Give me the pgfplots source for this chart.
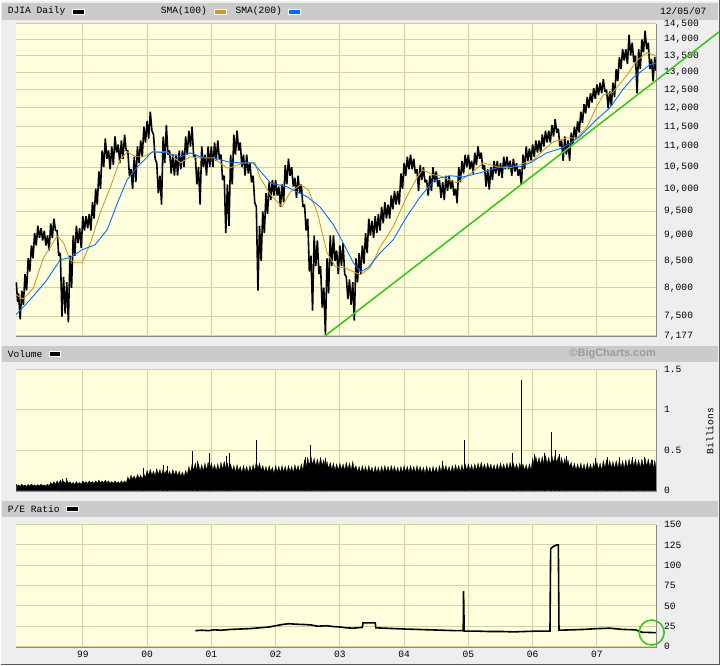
\documentclass[border=0pt]{standalone}
\usepackage{pgfplots}
\pgfplotsset{compat=1.18}
\usepackage{fontspec}
\setmainfont{Liberation Sans}
\newfontfamily\mono{Liberation Mono}
\newcommand\tickfont{\mono\fontsize{9.6}{10}\selectfont}
\definecolor{bgc}{HTML}{EEEEEE}
\definecolor{hdr}{HTML}{CBCBCB}
\definecolor{plotbg}{HTML}{FFFFDE}
\definecolor{gridc}{HTML}{D6D2A0}
\definecolor{smaorange}{HTML}{CC9933}
\definecolor{smablue}{HTML}{0A6CFF}
\definecolor{trend}{HTML}{3CC81E}
\definecolor{shadowc}{HTML}{8A8A8A}
\definecolor{logoc}{HTML}{9A9A9A}
\pgfplotsset{
  bc/.style={
    scale only axis, width=640pt, xmin=1997.96, xmax=2007.92,
    anchor=south west,
    axis background/.style={fill=plotbg},
    axis line style={draw=none},
    xtick={1999,2000,...,2007},
    major tick length=0pt,
    grid=major, major grid style={draw=gridc, line width=1pt},
    yticklabel pos=right,
    yticklabel style={font=\tickfont, anchor=west, inner sep=0pt, xshift=8pt},
    xticklabel style={font=\tickfont, anchor=north, inner sep=0pt, yshift=-4pt},
    clip=false,
  }
}
\begin{document}
\begin{tikzpicture}[x=1pt,y=1pt]
\useasboundingbox (0,0) rectangle (720,665);
\fill[bgc] (0,0) rectangle (720,665);
\draw[white, line width=1pt] (0.5,0.5) -- (0.5,664.5) -- (719.5,664.5);
\draw[gray!70!black, line width=1pt] (0.5,0.5) -- (719.5,0.5) -- (719.5,664.5);
% header bars
\fill[hdr] (2,662) rectangle (718,645);
\fill[hdr] (2,319) rectangle (718,303);
\fill[hdr] (2,164) rectangle (718,148);
% header texts
\node[anchor=west, inner sep=0pt] at (7.7,653.5) {\tickfont DJIA Daily};
\filldraw[fill=black, draw=white, line width=0.8pt] (72,651) rectangle (84,656);
\node[anchor=west, inner sep=0pt] at (160.7,653.5) {\tickfont SMA(100)};
\filldraw[fill=smaorange, draw=white, line width=0.8pt] (214,651) rectangle (226,656);
\node[anchor=west, inner sep=0pt] at (235.5,653.5) {\tickfont SMA(200)};
\filldraw[fill=smablue, draw=white, line width=0.8pt] (288,651) rectangle (300,656);
\node[anchor=west, inner sep=0pt] at (660,653.5) {\tickfont 12/05/07};
\node[anchor=west, inner sep=0pt] at (7.7,311) {\tickfont Volume};
\filldraw[fill=black, draw=white, line width=0.8pt] (49.6,308.5) rectangle (60.6,313.5);
\node[anchor=east, inner sep=0pt, text=logoc] at (656,311) {\fontsize{11}{12}\selectfont\bfseries\copyright BigCharts.com};
\node[anchor=west, inner sep=0pt] at (7.7,156) {\tickfont P/E Ratio};
\filldraw[fill=black, draw=white, line width=0.8pt] (66.6,153.5) rectangle (78.6,158.5);
\node[rotate=90, inner sep=0pt] at (710,234) {\tickfont Billions};

% ---------------- PRICE PANEL ----------------
\begin{axis}[bc, at={(16pt,329pt)}, height=312pt,
  ymode=log, ymin=7177, ymax=14500,
  xticklabels={},
  ytick={7177,7500,8000,8500,9000,9500,10000,10500,11000,11500,12000,12500,13000,13500,14000,14500},
  yticklabels={{7,177},{7,500},{8,000},{8,500},{9,000},{9,500},{10,000},{10,500},{11,000},{11,500},{12,000},{12,500},{13,000},{13,500},{14,000},{14,500}},
]
\addplot[black, line width=1.6pt, line join=bevel] table[row sep=\\] {
x y\\
1997.965 8100\\ 1997.985 7750\\
1998.00 7900\\ 1998.025 7450\\ 1998.05 7950\\ 1998.075 7700\\ 1998.10 8250\\ 1998.125 7950\\ 1998.15 8550\\ 1998.175 8300\\
1998.20 8800\\ 1998.225 8550\\ 1998.25 9050\\ 1998.275 8800\\ 1998.30 9200\\ 1998.325 8950\\ 1998.35 9150\\ 1998.375 8900\\
1998.40 9100\\ 1998.425 8800\\ 1998.45 9000\\ 1998.475 8700\\ 1998.50 9250\\ 1998.525 8950\\ 1998.55 9350\\ 1998.575 9100\\
1998.60 9100\\ 1998.625 8600\\ 1998.65 8650\\ 1998.675 7500\\ 1998.70 8200\\ 1998.725 7550\\ 1998.75 8100\\ 1998.775 7400\\
1998.80 8600\\ 1998.825 8000\\ 1998.85 9000\\ 1998.875 8600\\ 1998.90 9200\\ 1998.925 8850\\ 1998.95 9150\\ 1998.975 8750\\
1999.00 9400\\ 1999.025 9100\\ 1999.05 9400\\ 1999.075 9150\\ 1999.10 9450\\ 1999.125 9100\\ 1999.15 9700\\ 1999.175 9350\\
1999.20 10000\\ 1999.225 9650\\ 1999.25 10400\\ 1999.275 10000\\ 1999.30 10900\\ 1999.325 10500\\ 1999.35 11200\\ 1999.375 10700\\
1999.40 10900\\ 1999.425 10450\\ 1999.45 11000\\ 1999.475 10550\\ 1999.50 11250\\ 1999.525 10850\\ 1999.55 11050\\ 1999.575 10600\\
1999.60 11150\\ 1999.625 10700\\ 1999.65 11300\\ 1999.675 10900\\ 1999.70 10900\\ 1999.725 10300\\ 1999.75 10450\\ 1999.775 10000\\
1999.80 10750\\ 1999.825 10150\\ 1999.85 11000\\ 1999.875 10600\\ 1999.90 11150\\ 1999.925 10750\\ 1999.95 11500\\ 1999.975 11100\\
2000.00 11650\\ 2000.025 11200\\ 2000.05 11900\\ 2000.075 11400\\ 2000.10 11300\\ 2000.125 10700\\ 2000.15 10600\\ 2000.175 9900\\
2000.20 10300\\ 2000.225 9650\\ 2000.25 11250\\ 2000.275 10600\\ 2000.30 11550\\ 2000.325 10800\\ 2000.35 10900\\ 2000.375 10350\\
2000.40 10800\\ 2000.425 10300\\ 2000.45 10800\\ 2000.475 10300\\ 2000.50 10900\\ 2000.525 10450\\ 2000.55 10900\\ 2000.575 10500\\
2000.60 11250\\ 2000.625 10800\\ 2000.65 11400\\ 2000.675 11000\\ 2000.70 11500\\ 2000.725 10750\\ 2000.75 10800\\ 2000.775 10100\\
2000.80 10500\\ 2000.825 9650\\ 2000.85 11000\\ 2000.875 10500\\ 2000.90 10800\\ 2000.925 10300\\ 2000.95 11000\\ 2000.975 10500\\
2001.00 11000\\ 2001.025 10500\\ 2001.05 11100\\ 2001.075 10650\\ 2001.10 11150\\ 2001.125 10700\\ 2001.15 10800\\ 2001.175 10200\\
2001.20 10300\\ 2001.225 9050\\ 2001.25 10100\\ 2001.275 9200\\ 2001.30 10800\\ 2001.325 10100\\ 2001.35 11300\\ 2001.375 10800\\
2001.40 11400\\ 2001.425 10900\\ 2001.45 11100\\ 2001.475 10500\\ 2001.50 10800\\ 2001.525 10300\\ 2001.55 10800\\ 2001.575 10350\\
2001.60 10600\\ 2001.625 10150\\ 2001.65 10300\\ 2001.675 9700\\ 2001.70 9600\\ 2001.725 7950\\ 2001.75 9200\\ 2001.775 8500\\
2001.80 9500\\ 2001.825 9050\\ 2001.85 9900\\ 2001.875 9450\\ 2001.90 10150\\ 2001.925 9750\\ 2001.95 10200\\ 2001.975 9850\\
2002.00 10200\\ 2002.025 9850\\ 2002.05 10050\\ 2002.075 9600\\ 2002.10 10100\\ 2002.125 9700\\ 2002.15 10550\\ 2002.175 10100\\
2002.20 10700\\ 2002.225 10300\\ 2002.25 10500\\ 2002.275 10050\\ 2002.30 10250\\ 2002.325 9800\\ 2002.35 10300\\ 2002.375 9900\\
2002.40 10100\\ 2002.425 9600\\ 2002.45 9650\\ 2002.475 9100\\ 2002.50 9350\\ 2002.525 8300\\ 2002.55 8600\\ 2002.575 7600\\
2002.60 9000\\ 2002.625 8400\\ 2002.65 8900\\ 2002.675 8250\\ 2002.70 8400\\ 2002.725 7650\\ 2002.75 8000\\ 2002.775 7200\\
2002.80 8550\\ 2002.825 7900\\ 2002.85 9000\\ 2002.875 8400\\ 2002.90 9000\\ 2002.925 8500\\ 2002.95 8700\\ 2002.975 8250\\
2003.00 8800\\ 2003.025 8400\\ 2003.05 8850\\ 2003.075 8250\\ 2003.10 8200\\ 2003.125 7800\\ 2003.15 8150\\ 2003.175 7700\\
2003.20 8100\\ 2003.225 7430\\ 2003.25 8550\\ 2003.275 8100\\ 2003.30 8650\\ 2003.325 8250\\ 2003.35 8800\\ 2003.375 8450\\
2003.40 9050\\ 2003.425 8650\\ 2003.45 9350\\ 2003.475 9000\\ 2003.50 9300\\ 2003.525 8950\\ 2003.55 9400\\ 2003.575 9050\\
2003.60 9450\\ 2003.625 9100\\ 2003.65 9600\\ 2003.675 9250\\ 2003.70 9700\\ 2003.725 9350\\ 2003.75 9650\\ 2003.775 9350\\
2003.80 9850\\ 2003.825 9550\\ 2003.85 9950\\ 2003.875 9650\\ 2003.90 9950\\ 2003.925 9650\\ 2003.95 10350\\ 2003.975 10000\\
2004.00 10600\\ 2004.025 10300\\ 2004.05 10750\\ 2004.075 10450\\ 2004.10 10800\\ 2004.125 10450\\ 2004.15 10700\\ 2004.175 10350\\
2004.20 10450\\ 2004.225 9950\\ 2004.25 10550\\ 2004.275 10200\\ 2004.30 10500\\ 2004.325 10150\\ 2004.35 10200\\ 2004.375 9850\\
2004.40 10300\\ 2004.425 9950\\ 2004.45 10500\\ 2004.475 10150\\ 2004.50 10400\\ 2004.525 10050\\ 2004.55 10200\\ 2004.575 9800\\
2004.60 10150\\ 2004.625 9750\\ 2004.65 10300\\ 2004.675 9950\\ 2004.70 10300\\ 2004.725 10000\\ 2004.75 10200\\ 2004.775 9850\\
2004.80 10000\\ 2004.825 9680\\ 2004.85 10500\\ 2004.875 10150\\ 2004.90 10650\\ 2004.925 10350\\ 2004.95 10800\\ 2004.975 10500\\
2005.00 10800\\ 2005.025 10450\\ 2005.05 10650\\ 2005.075 10350\\ 2005.10 10850\\ 2005.125 10550\\ 2005.15 11000\\ 2005.175 10700\\
2005.20 10850\\ 2005.225 10450\\ 2005.25 10550\\ 2005.275 10050\\ 2005.30 10450\\ 2005.325 9980\\ 2005.35 10500\\ 2005.375 10200\\
2005.40 10650\\ 2005.425 10350\\ 2005.45 10650\\ 2005.475 10300\\ 2005.50 10600\\ 2005.525 10250\\ 2005.55 10750\\ 2005.575 10450\\
2005.60 10750\\ 2005.625 10450\\ 2005.65 10650\\ 2005.675 10300\\ 2005.70 10700\\ 2005.725 10400\\ 2005.75 10600\\ 2005.775 10300\\
2005.80 10450\\ 2005.825 10090\\ 2005.85 10800\\ 2005.875 10450\\ 2005.90 11000\\ 2005.925 10650\\ 2005.95 10950\\ 2005.975 10650\\
2006.00 11050\\ 2006.025 10750\\ 2006.05 11150\\ 2006.075 10850\\ 2006.10 11150\\ 2006.125 10850\\ 2006.15 11300\\ 2006.175 11000\\
2006.20 11400\\ 2006.225 11100\\ 2006.25 11400\\ 2006.275 11100\\ 2006.30 11550\\ 2006.325 11250\\ 2006.35 11700\\ 2006.375 11350\\
2006.40 11450\\ 2006.425 11000\\ 2006.45 11150\\ 2006.475 10650\\ 2006.50 11250\\ 2006.525 10800\\ 2006.55 11150\\ 2006.575 10650\\
2006.60 11350\\ 2006.625 11050\\ 2006.65 11500\\ 2006.675 11200\\ 2006.70 11650\\ 2006.725 11350\\ 2006.75 11900\\ 2006.775 11600\\
2006.80 12100\\ 2006.825 11850\\ 2006.85 12300\\ 2006.875 12000\\ 2006.90 12400\\ 2006.925 12150\\ 2006.95 12550\\ 2006.975 12250\\
2007.00 12650\\ 2007.025 12350\\ 2007.05 12700\\ 2007.075 12400\\ 2007.10 12800\\ 2007.125 12450\\ 2007.15 12500\\ 2007.175 11990\\
2007.20 12450\\ 2007.225 12050\\ 2007.25 12700\\ 2007.275 12300\\ 2007.30 13100\\ 2007.325 12750\\ 2007.35 13450\\ 2007.375 13100\\
2007.40 13700\\ 2007.425 13350\\ 2007.45 13700\\ 2007.475 13250\\ 2007.50 14150\\ 2007.525 13500\\ 2007.55 13900\\ 2007.575 13300\\
2007.60 13500\\ 2007.625 12400\\ 2007.65 13700\\ 2007.675 13100\\ 2007.70 14000\\ 2007.725 13600\\ 2007.75 14280\\ 2007.775 13700\\
2007.80 13900\\ 2007.825 13100\\ 2007.85 13400\\ 2007.875 12750\\ 2007.90 13450\\ 2007.92 13050\\
};
% SMA(100)
\addplot[smaorange, line width=0.9pt] table[row sep=\\] {
x y\\
1997.96 7877\\ 1998.07 7800\\ 1998.23 7990\\ 1998.38 8540\\ 1998.60 8990\\ 1998.70 8855\\ 1998.80 8522\\ 1998.88 8465\\
1998.99 8465\\ 1999.12 8855\\ 1999.27 9475\\ 1999.43 10044\\ 1999.58 10675\\ 1999.69 10869\\ 1999.82 10748\\ 1999.94 10748\\
2000.10 10869\\ 2000.31 10869\\ 2000.52 10602\\ 2000.67 10748\\ 2000.83 10723\\ 2001.03 10723\\ 2001.24 10484\\ 2001.29 10484\\
2001.50 10602\\ 2001.68 10602\\ 2001.76 10250\\ 2001.92 9866\\ 2002.10 9602\\ 2002.23 9932\\ 2002.39 10090\\ 2002.51 9977\\
2002.65 9473\\ 2002.80 8658\\ 2002.93 8390\\ 2003.08 8370\\ 2003.21 8294\\ 2003.32 8238\\ 2003.47 8370\\ 2003.63 8776\\
2003.83 9180\\ 2004.04 9821\\ 2004.20 10250\\ 2004.29 10437\\ 2004.45 10320\\ 2004.56 10297\\ 2004.82 10135\\ 2005.07 10390\\
2005.23 10602\\ 2005.45 10507\\ 2005.65 10484\\ 2005.80 10555\\ 2006.01 10675\\ 2006.17 10918\\ 2006.32 11117\\ 2006.54 11216\\
2006.69 11216\\ 2006.85 11508\\ 2007.00 12045\\ 2007.10 12356\\ 2007.25 12430\\ 2007.47 12928\\ 2007.63 13366\\ 2007.78 13595\\
2007.86 13540\\ 2007.92 13484\\
};
% SMA(200)
\addplot[smablue, line width=0.9pt] table[row sep=\\] {
x y\\
1997.96 7530\\ 1998.18 7788\\ 1998.42 8110\\ 1998.65 8522\\ 1998.80 8561\\ 1998.99 8716\\ 1999.19 8815\\ 1999.38 9117\\
1999.54 9689\\ 1999.69 10204\\ 1999.85 10507\\ 2000.08 10869\\ 2000.31 10845\\ 2000.52 10748\\ 2000.67 10845\\ 2000.83 10748\\
2001.03 10723\\ 2001.26 10626\\ 2001.45 10602\\ 2001.65 10602\\ 2001.92 10135\\ 2002.18 10044\\ 2002.49 9821\\ 2002.69 9602\\
2002.90 9221\\ 2003.05 8855\\ 2003.21 8465\\ 2003.32 8294\\ 2003.44 8370\\ 2003.63 8658\\ 2003.83 8915\\ 2004.04 9389\\
2004.25 9821\\ 2004.45 10157\\ 2004.56 10250\\ 2004.72 10297\\ 2004.92 10273\\ 2005.18 10366\\ 2005.45 10484\\ 2005.65 10531\\
2005.80 10507\\ 2005.96 10602\\ 2006.22 10845\\ 2006.47 10967\\ 2006.73 11242\\ 2006.99 11681\\ 2007.20 12000\\ 2007.40 12498\\
2007.56 12840\\ 2007.72 13073\\ 2007.82 13221\\ 2007.92 13281\\
};
% trend line
\addplot[trend, line width=1.6pt] coordinates {(2002.770,7177) (2008.899,14241)};
\end{axis}
\draw[shadowc, line width=1.2pt] (16,328.4) -- (656.6,328.4) -- (656.6,641);

% ---------------- VOLUME PANEL ----------------
\begin{axis}[bc, at={(16pt,174.5pt)}, height=121pt,
  ymin=0, ymax=1.5, xticklabels={},
  ytick={0,0.5,1,1.5}, yticklabels={0,0.5,1,1.5},
]
\addplot[fill=black, draw=black, line width=0.3pt] table[row sep=\\] {
x y\\
1997.965 0.075\\ 1997.99 0.055\\
1998.00 0.07\\ 1998.025 0.05\\ 1998.05 0.08\\ 1998.075 0.055\\ 1998.10 0.07\\ 1998.125 0.05\\ 1998.15 0.075\\ 1998.175 0.055\\
1998.20 0.08\\ 1998.225 0.06\\ 1998.25 0.07\\ 1998.275 0.055\\ 1998.30 0.075\\ 1998.325 0.055\\ 1998.35 0.08\\ 1998.375 0.06\\
1998.40 0.07\\ 1998.425 0.055\\ 1998.45 0.08\\ 1998.475 0.06\\ 1998.50 0.10\\ 1998.525 0.07\\ 1998.55 0.11\\ 1998.575 0.075\\
1998.60 0.12\\ 1998.625 0.08\\ 1998.65 0.13\\ 1998.675 0.09\\ 1998.70 0.12\\ 1998.725 0.085\\ 1998.75 0.13\\ 1998.775 0.09\\
1998.80 0.11\\ 1998.825 0.08\\ 1998.85 0.10\\ 1998.875 0.075\\ 1998.90 0.11\\ 1998.925 0.08\\ 1998.95 0.10\\ 1998.975 0.075\\
1999.00 0.12\\ 1999.025 0.09\\ 1999.05 0.11\\ 1999.075 0.085\\ 1999.10 0.12\\ 1999.125 0.09\\ 1999.15 0.11\\ 1999.175 0.085\\
1999.20 0.12\\ 1999.225 0.09\\ 1999.25 0.13\\ 1999.275 0.095\\ 1999.30 0.12\\ 1999.325 0.09\\ 1999.35 0.13\\ 1999.375 0.095\\
1999.40 0.12\\ 1999.425 0.09\\ 1999.45 0.11\\ 1999.475 0.085\\ 1999.50 0.12\\ 1999.525 0.09\\ 1999.55 0.11\\ 1999.575 0.085\\
1999.60 0.12\\ 1999.625 0.09\\ 1999.65 0.12\\ 1999.675 0.09\\ 1999.70 0.17\\ 1999.725 0.12\\ 1999.75 0.19\\ 1999.775 0.14\\
1999.80 0.18\\ 1999.825 0.13\\ 1999.85 0.20\\ 1999.875 0.15\\ 1999.90 0.19\\ 1999.925 0.14\\ 1999.95 0.21\\ 1999.975 0.16\\
2000.00 0.25\\ 2000.025 0.19\\ 2000.05 0.26\\ 2000.075 0.19\\ 2000.10 0.24\\ 2000.125 0.18\\ 2000.15 0.27\\ 2000.175 0.2\\
2000.20 0.26\\ 2000.225 0.19\\ 2000.25 0.27\\ 2000.275 0.2\\ 2000.30 0.25\\ 2000.325 0.19\\ 2000.35 0.24\\ 2000.375 0.18\\
2000.40 0.26\\ 2000.425 0.19\\ 2000.45 0.25\\ 2000.475 0.18\\ 2000.50 0.24\\ 2000.525 0.18\\ 2000.55 0.23\\ 2000.575 0.17\\
2000.60 0.25\\ 2000.625 0.19\\ 2000.65 0.30\\ 2000.675 0.22\\ 2000.70 0.33\\ 2000.725 0.25\\ 2000.75 0.34\\ 2000.775 0.25\\
2000.80 0.33\\ 2000.825 0.24\\ 2000.85 0.32\\ 2000.875 0.24\\ 2000.90 0.34\\ 2000.925 0.25\\ 2000.95 0.35\\ 2000.975 0.26\\
2001.00 0.34\\ 2001.025 0.25\\ 2001.05 0.32\\ 2001.075 0.24\\ 2001.10 0.33\\ 2001.125 0.24\\ 2001.15 0.35\\ 2001.175 0.26\\
2001.20 0.36\\ 2001.225 0.27\\ 2001.25 0.34\\ 2001.275 0.26\\ 2001.30 0.33\\ 2001.325 0.24\\ 2001.35 0.31\\ 2001.375 0.23\\
2001.40 0.32\\ 2001.425 0.24\\ 2001.45 0.30\\ 2001.475 0.22\\ 2001.50 0.31\\ 2001.525 0.23\\ 2001.55 0.30\\ 2001.575 0.22\\
2001.60 0.31\\ 2001.625 0.23\\ 2001.65 0.32\\ 2001.675 0.24\\ 2001.70 0.36\\ 2001.725 0.27\\ 2001.75 0.34\\ 2001.775 0.25\\
2001.80 0.31\\ 2001.825 0.23\\ 2001.85 0.30\\ 2001.875 0.22\\ 2001.90 0.31\\ 2001.925 0.23\\ 2001.95 0.29\\ 2001.975 0.21\\
2002.00 0.31\\ 2002.025 0.23\\ 2002.05 0.30\\ 2002.075 0.22\\ 2002.10 0.31\\ 2002.125 0.23\\ 2002.15 0.30\\ 2002.175 0.22\\
2002.20 0.31\\ 2002.225 0.23\\ 2002.25 0.30\\ 2002.275 0.22\\ 2002.30 0.32\\ 2002.325 0.24\\ 2002.35 0.31\\ 2002.375 0.23\\
2002.40 0.33\\ 2002.425 0.25\\ 2002.45 0.38\\ 2002.475 0.29\\ 2002.50 0.41\\ 2002.525 0.31\\ 2002.55 0.42\\ 2002.575 0.32\\
2002.60 0.40\\ 2002.625 0.30\\ 2002.65 0.39\\ 2002.675 0.30\\ 2002.70 0.41\\ 2002.725 0.31\\ 2002.75 0.38\\ 2002.775 0.28\\
2002.80 0.36\\ 2002.825 0.27\\ 2002.85 0.35\\ 2002.875 0.26\\ 2002.90 0.34\\ 2002.925 0.25\\ 2002.95 0.33\\ 2002.975 0.25\\
2003.00 0.34\\ 2003.025 0.26\\ 2003.05 0.33\\ 2003.075 0.25\\ 2003.10 0.35\\ 2003.125 0.26\\ 2003.15 0.34\\ 2003.175 0.25\\
2003.20 0.36\\ 2003.225 0.26\\ 2003.25 0.31\\ 2003.275 0.23\\ 2003.30 0.30\\ 2003.325 0.22\\ 2003.35 0.31\\ 2003.375 0.23\\
2003.40 0.30\\ 2003.425 0.22\\ 2003.45 0.31\\ 2003.475 0.23\\ 2003.50 0.29\\ 2003.525 0.21\\ 2003.55 0.30\\ 2003.575 0.22\\
2003.60 0.29\\ 2003.625 0.21\\ 2003.65 0.30\\ 2003.675 0.22\\ 2003.70 0.31\\ 2003.725 0.23\\ 2003.75 0.30\\ 2003.775 0.22\\
2003.80 0.31\\ 2003.825 0.23\\ 2003.85 0.30\\ 2003.875 0.22\\ 2003.90 0.29\\ 2003.925 0.21\\ 2003.95 0.30\\ 2003.975 0.22\\
2004.00 0.31\\ 2004.025 0.23\\ 2004.05 0.30\\ 2004.075 0.22\\ 2004.10 0.31\\ 2004.125 0.23\\ 2004.15 0.30\\ 2004.175 0.22\\
2004.20 0.31\\ 2004.225 0.23\\ 2004.25 0.30\\ 2004.275 0.22\\ 2004.30 0.29\\ 2004.325 0.21\\ 2004.35 0.30\\ 2004.375 0.22\\
2004.40 0.29\\ 2004.425 0.21\\ 2004.45 0.30\\ 2004.475 0.22\\ 2004.50 0.29\\ 2004.525 0.21\\ 2004.55 0.31\\ 2004.575 0.23\\
2004.60 0.33\\ 2004.625 0.24\\ 2004.65 0.31\\ 2004.675 0.23\\ 2004.70 0.30\\ 2004.725 0.22\\ 2004.75 0.31\\ 2004.775 0.23\\
2004.80 0.32\\ 2004.825 0.24\\ 2004.85 0.31\\ 2004.875 0.23\\ 2004.90 0.32\\ 2004.925 0.24\\ 2004.95 0.33\\ 2004.975 0.25\\
2005.00 0.33\\ 2005.025 0.25\\ 2005.05 0.32\\ 2005.075 0.24\\ 2005.10 0.33\\ 2005.125 0.25\\ 2005.15 0.34\\ 2005.175 0.26\\
2005.20 0.35\\ 2005.225 0.26\\ 2005.25 0.33\\ 2005.275 0.25\\ 2005.30 0.34\\ 2005.325 0.26\\ 2005.35 0.33\\ 2005.375 0.25\\
2005.40 0.32\\ 2005.425 0.24\\ 2005.45 0.33\\ 2005.475 0.25\\ 2005.50 0.34\\ 2005.525 0.26\\ 2005.55 0.33\\ 2005.575 0.25\\
2005.60 0.34\\ 2005.625 0.26\\ 2005.65 0.35\\ 2005.675 0.27\\ 2005.70 0.34\\ 2005.725 0.26\\ 2005.75 0.33\\ 2005.775 0.25\\
2005.80 0.34\\ 2005.825 0.26\\ 2005.85 0.33\\ 2005.875 0.25\\ 2005.90 0.32\\ 2005.925 0.24\\ 2005.95 0.33\\ 2005.975 0.25\\
2006.00 0.40\\ 2006.025 0.31\\ 2006.05 0.42\\ 2006.075 0.33\\ 2006.10 0.41\\ 2006.125 0.32\\ 2006.15 0.42\\ 2006.175 0.33\\
2006.20 0.43\\ 2006.225 0.33\\ 2006.25 0.41\\ 2006.275 0.32\\ 2006.30 0.43\\ 2006.325 0.34\\ 2006.35 0.44\\ 2006.375 0.34\\
2006.40 0.42\\ 2006.425 0.32\\ 2006.45 0.41\\ 2006.475 0.31\\ 2006.50 0.40\\ 2006.525 0.30\\ 2006.55 0.38\\ 2006.575 0.29\\
2006.60 0.35\\ 2006.625 0.26\\ 2006.65 0.34\\ 2006.675 0.25\\ 2006.70 0.33\\ 2006.725 0.25\\ 2006.75 0.34\\ 2006.775 0.25\\
2006.80 0.33\\ 2006.825 0.24\\ 2006.85 0.34\\ 2006.875 0.25\\ 2006.90 0.33\\ 2006.925 0.25\\ 2006.95 0.34\\ 2006.975 0.26\\
2007.00 0.35\\ 2007.025 0.26\\ 2007.05 0.34\\ 2007.075 0.25\\ 2007.10 0.37\\ 2007.125 0.28\\ 2007.15 0.38\\ 2007.175 0.29\\
2007.20 0.37\\ 2007.225 0.28\\ 2007.25 0.36\\ 2007.275 0.27\\ 2007.30 0.37\\ 2007.325 0.28\\ 2007.35 0.38\\ 2007.375 0.28\\
2007.40 0.37\\ 2007.425 0.27\\ 2007.45 0.38\\ 2007.475 0.28\\ 2007.50 0.39\\ 2007.525 0.29\\ 2007.55 0.40\\ 2007.575 0.30\\
2007.60 0.39\\ 2007.625 0.29\\ 2007.65 0.38\\ 2007.675 0.28\\ 2007.70 0.39\\ 2007.725 0.29\\ 2007.75 0.40\\ 2007.775 0.30\\
2007.80 0.39\\ 2007.825 0.29\\ 2007.85 0.38\\ 2007.875 0.28\\ 2007.90 0.37\\ 2007.92 0.28\\
} \closedcycle;
\addplot[ycomb, black, line width=0.9pt] table[row sep=\\] {
x y\\
1998.68 0.14\\ 1998.75 0.15\\ 1999.95 0.28\\ 2000.26 0.31\\ 2000.32 0.30\\ 2000.71 0.49\\ 2000.79 0.37\\
2000.97 0.47\\ 2001.23 0.43\\ 2001.28 0.47\\ 2001.70 0.63\\ 2002.46 0.41\\ 2002.54 0.57\\ 2002.77 0.40\\
2004.60 0.36\\ 2004.94 0.62\\ 2005.68 0.47\\ 2005.83 1.37\\ 2006.03 0.45\\ 2006.19 0.47\\ 2006.29 0.73\\
2006.35 0.50\\ 2006.42 0.45\\ 2006.52 0.43\\ 2006.97 0.40\\ 2007.16 0.41\\ 2007.35 0.42\\ 2007.55 0.42\\
2007.74 0.41\\ 2007.87 0.38\\
};
\end{axis}
\draw[shadowc, line width=1.2pt] (16,173.9) -- (656.6,173.9) -- (656.6,295.5);

% ---------------- P/E PANEL ----------------
\begin{axis}[bc, at={(16pt,18.5pt)}, height=122pt,
  ymin=0, ymax=150,
  xticklabels={99,00,01,02,03,04,05,06,07},
  ytick={0,25,50,75,100,125,150}, yticklabels={0,25,50,75,100,125,150},
]
\addplot[black, line width=1.6pt] table[row sep=\\] {
x y\\
2000.75 19.5\\ 2000.85 20\\ 2000.95 19.5\\ 2001.05 20.5\\ 2001.15 20\\ 2001.30 21\\ 2001.45 21.5\\ 2001.60 22\\
2001.75 23\\ 2001.90 24\\ 2002.00 25.5\\ 2002.10 27\\ 2002.20 28\\ 2002.30 27.5\\ 2002.45 27\\ 2002.55 26.5\\
2002.65 25\\ 2002.80 25.5\\ 2002.90 24.5\\ 2003.00 24\\ 2003.10 23\\ 2003.20 22.5\\ 2003.35 23.5\\ 2003.36 29\\
2003.55 29\\ 2003.56 23\\ 2003.70 22.5\\ 2003.85 22\\ 2004.00 21.5\\ 2004.20 21\\ 2004.40 20.5\\ 2004.60 20\\
2004.80 19.5\\ 2004.92 19.5\\ 2004.925 68\\ 2004.935 19\\ 2005.10 19\\ 2005.30 18.5\\ 2005.50 18.5\\ 2005.70 18\\
2005.90 18.5\\ 2006.10 19\\ 2006.27 19\\ 2006.28 120\\ 2006.32 123\\ 2006.38 125\\ 2006.40 125\\ 2006.41 20\\
2006.60 20.5\\ 2006.80 21\\ 2007.00 22\\ 2007.20 22.5\\ 2007.40 21\\ 2007.60 20.5\\ 2007.70 17.5\\ 2007.92 17\\
};
\draw[trend, line width=1.6pt] (axis cs:2007.852,17.2) circle[radius=12.5pt];
\end{axis}
\draw[shadowc, line width=1.2pt] (16,17.9) -- (656.6,17.9) -- (656.6,140.5);
\end{tikzpicture}
\end{document}
